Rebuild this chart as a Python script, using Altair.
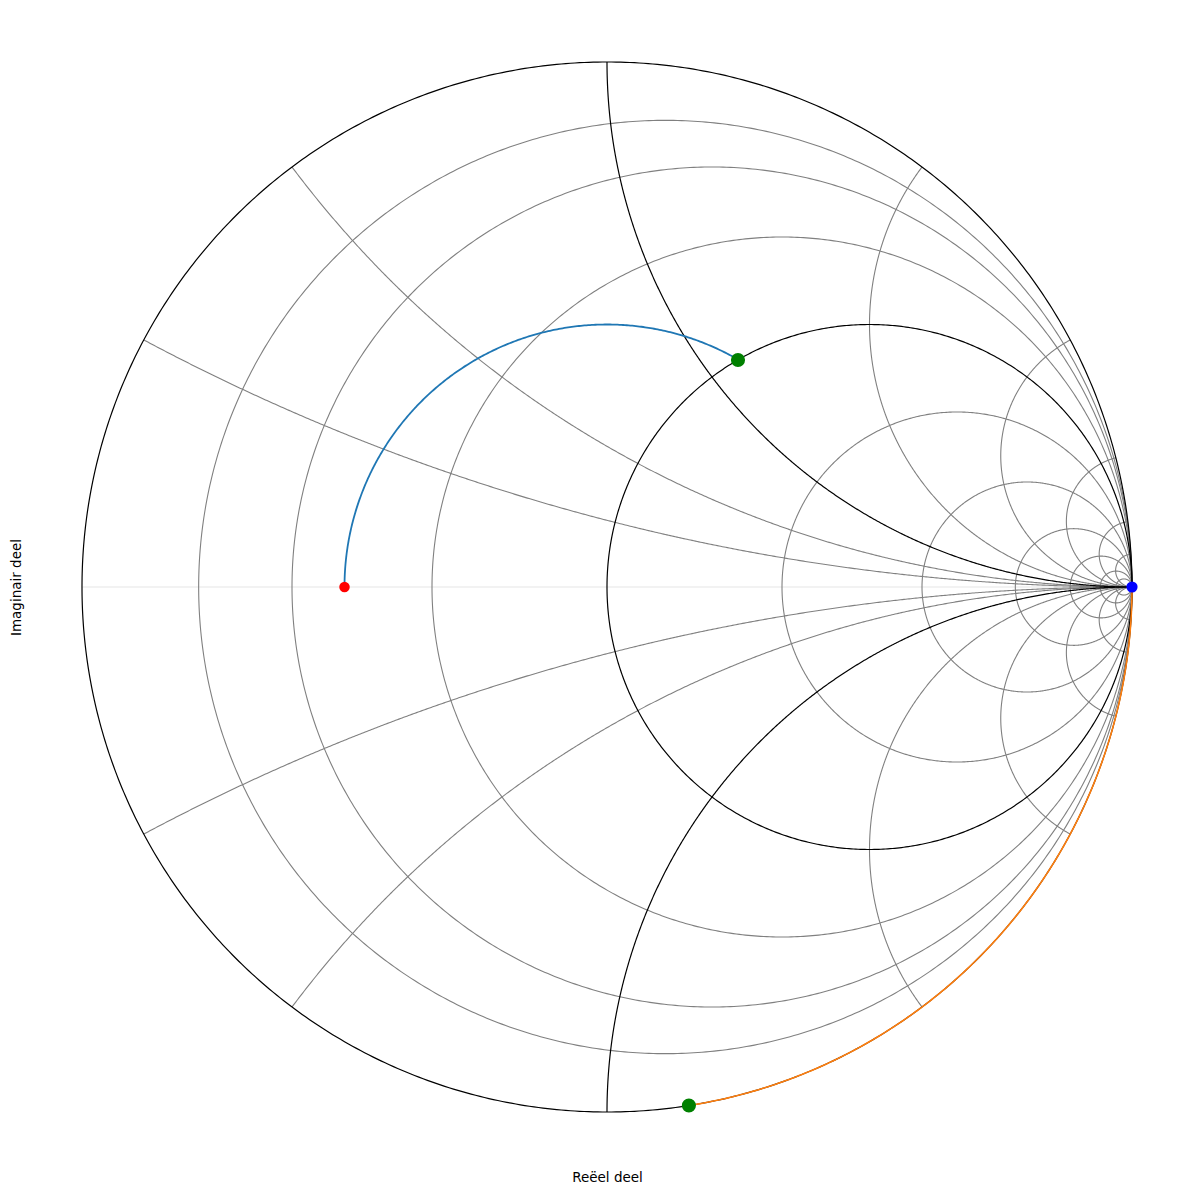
import numpy as np
import pandas as pd
import altair as alt

# ---- Smith chart grid values ----
r_values = [0.125, 0.25, 0.5, 1, 2, 4, 8, 16, 32, 64]   # constant-resistance circles
x_values = [0.25, 0.5, 1, 2, 4, 8, 16, 32]              # constant-reactance arcs (both signs)
black_r = [0, 1]
black_x = [1, -1]

# ---- matching path ----
arc_gamma_mag = 0.5
arc_start_deg = 180.0
arc_end_deg = 60.0
edge_start_deg = -81.0
edge_end_deg = 0.0

point_names = ["start", "match1", "match2", "open"]
point_u = [-0.5, 0.2495, 0.156, 1.0]
point_v = [0.0, 0.4324, -0.9877, 0.0]
point_colors = ["#ff0000", "#008000", "#008000", "#0000ff"]
point_sizes = [110, 200, 200, 125]


def r_circle(r, n=720):
    c = r / (1 + r)
    rad = 1 / (1 + r)
    t = np.linspace(0, 2 * np.pi, n + 1)
    return c + rad * np.cos(t), rad * np.sin(t)


def x_arc(x, n=600):
    s = 1 if x > 0 else -1
    a = abs(x)
    cy = 1 / a
    px = (a * a - 1) / (a * a + 1)
    py = 2 * a / (a * a + 1)
    th0 = np.arctan2(py - cy, px - 1)
    if th0 < np.pi / 2:
        th0 += 2 * np.pi
    t = np.linspace(th0, 1.5 * np.pi, n)
    u = 1 + (1 / a) * np.cos(t)
    v = cy + (1 / a) * np.sin(t)
    return u, s * v


rows = []
cid = 0


def add(u, v, group):
    global cid
    for i, (uu, vv) in enumerate(zip(u, v)):
        rows.append({"u": float(uu), "v": float(vv), "curve": cid, "i": i, "group": group})
    cid += 1


for r in r_values:
    if r in black_r:
        continue
    add(*r_circle(r), "gray")
for x in x_values:
    for sx in (x, -x):
        if sx in black_x:
            continue
        add(*x_arc(sx), "gray")
for r in black_r:
    add(*r_circle(r), "black")
for x in black_x:
    add(*x_arc(x), "black")

grid = pd.DataFrame(rows)
gray_df = grid[grid.group == "gray"]
black_df = grid[grid.group == "black"]

axis_df = pd.DataFrame({"u": [-1.0, 1.0], "v": [0.0, 0.0], "i": [0, 1]})

t = np.radians(np.linspace(arc_start_deg, arc_end_deg, 300))
blue_df = pd.DataFrame({"u": arc_gamma_mag * np.cos(t), "v": arc_gamma_mag * np.sin(t), "i": np.arange(300)})
t2 = np.radians(np.linspace(edge_start_deg, edge_end_deg, 300))
orange_df = pd.DataFrame({"u": np.cos(t2), "v": np.sin(t2), "i": np.arange(300)})

pts_df = pd.DataFrame({"u": point_u, "v": point_v, "name": point_names,
                       "col": point_colors, "size": point_sizes})

L = 1.0419
xs = alt.Scale(domain=[-L, L], nice=False, zero=False)
ys = alt.Scale(domain=[-L, L], nice=False, zero=False)
xaxis = alt.Axis(title="Reëel deel", labels=False, ticks=False, domain=False, grid=False,
                 titlePadding=36, titleFontWeight="normal", titleFont="DejaVu Sans",
                 titleFontSize=13.5, titleColor="black")
yaxis = alt.Axis(title="Imaginair deel", labels=False, ticks=False, domain=False, grid=False,
                 titlePadding=37, titleFontWeight="normal", titleFont="DejaVu Sans",
                 titleFontSize=13.5, titleColor="black")
X = alt.X("u:Q", scale=xs, axis=xaxis)
Y = alt.Y("v:Q", scale=ys, axis=yaxis)

axis_line = alt.Chart(axis_df).mark_line(color="#e6e6e6", strokeWidth=1.2).encode(x=X, y=Y, order="i:Q")
gray = alt.Chart(gray_df).mark_line(color="#808080", strokeWidth=1.1).encode(
    x=X, y=Y, detail="curve:N", order="i:Q")
black = alt.Chart(black_df).mark_line(color="#000000", strokeWidth=1.2).encode(
    x=X, y=Y, detail="curve:N", order="i:Q")
blue = alt.Chart(blue_df).mark_line(color="#1f77b4", strokeWidth=1.8).encode(x=X, y=Y, order="i:Q")
orange = alt.Chart(orange_df).mark_line(color="#ff7f0e", strokeWidth=1.6).encode(x=X, y=Y, order="i:Q")
pts = alt.Chart(pts_df).mark_circle(opacity=1).encode(
    x=X, y=Y,
    color=alt.Color("col:N", scale=None, legend=None),
    size=alt.Size("size:Q", scale=None, legend=None),
)

chart = alt.layer(axis_line, gray, black, blue, orange, pts).properties(
    width=1094, height=1094,
    autosize=alt.AutoSizeParams(type="none"),
    padding={"left": 52, "top": 32, "right": 20, "bottom": 50},
).configure_view(stroke=None)

chart.save("out.html", embed_options={"renderer": "svg", "actions": False})
